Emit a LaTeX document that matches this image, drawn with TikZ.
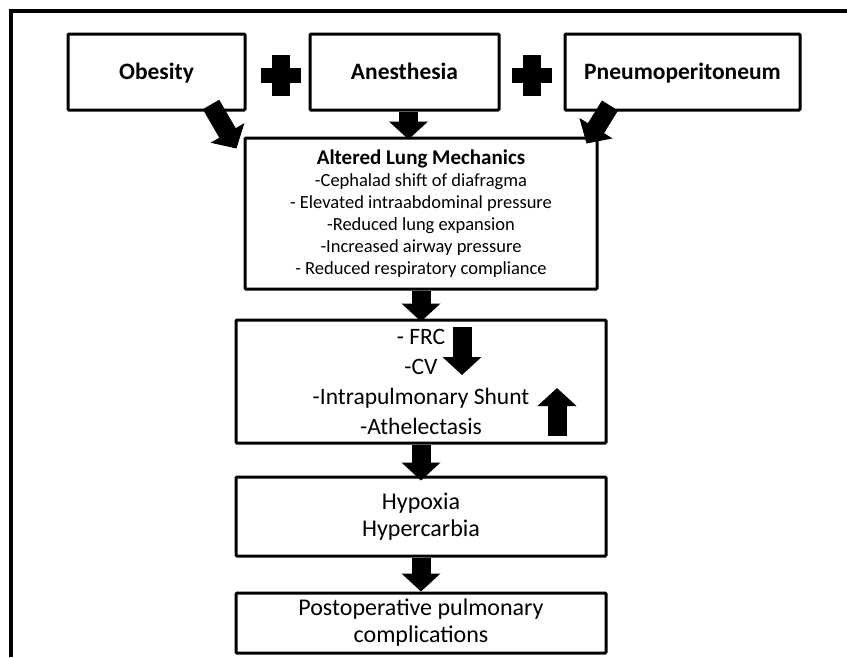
\documentclass[tikz,border=0pt]{standalone}
\usepackage{fontspec}
\setmainfont{Carlito}
\usetikzlibrary{arrows.meta,calc}
\tikzstyle{box} = [draw=black, line width=3pt, inner sep=0pt, align=center, rounded corners=1pt]
\tikzstyle{cause} = [box, minimum height=76pt, text height=15pt, text depth=0pt, font=\fontsize{23.5}{26}\selectfont\bfseries]
\tikzstyle{blk} = [line width=19pt, -{Triangle[width=38pt,length=18pt]}]

\begin{document}
\begin{tikzpicture}[x=1pt,y=-1pt]
	\useasboundingbox (0,0) rectangle (847,657);
	%frame
	\draw[line width=3.5pt] (11,657) -- (11,11) -- (847,11);
	%causes
	\node[cause, minimum width=177pt] (obes) at (156.5,72) {Obesity};
	\node[cause, minimum width=189pt] (anes) at (404.5,72) {Anesthesia};
	\node[cause, minimum width=235pt] (pneu) at (682.5,72) {Pneumoperitoneum};
	\foreach \px in {281,532} {
		\fill (\px-9,55) rectangle (\px+9,96);
		\fill (\px-20,68) rectangle (\px+20,83);
	}
	%mechanics
	\node[box, minimum width=352pt, minimum height=151pt, font=\fontsize{18.5}{22}\selectfont] (alt) at (421,213.5) {{\fontsize{21}{22}\selectfont\bfseries Altered Lung Mechanics}\\-Cephalad shift of diafragma\\- Elevated intraabdominal pressure\\-Reduced lung expansion\\-Increased airway pressure\\- Reduced respiratory compliance};
	\draw[blk] ($(obes.south)+(54.5,-7)$) -- ($(alt.north west)+(-7,12)$);
	\draw[blk] ($(anes.south)+(4,0)$) -- ($(anes.south)+(4,28)$);
	\draw[blk] ($(pneu.south)+(-72.5,-6)$) -- ($(alt.north east)+(-12,7)$);
	%volumes
	\node[box, minimum width=370pt, minimum height=123pt, font=\fontsize{23.5}{30}\selectfont] (vol) at (421,381.5) {- FRC\\-CV\\-Intrapulmonary Shunt\\-Athelectasis};
	\draw[blk, shorten >=-3pt] (alt.south) -- (vol.north);
	\coordinate (dnA) at (462,327);
	\coordinate (dnB) at (462,375);
	\draw[blk] (dnA) -- (dnB);
	\coordinate (upA) at (557,436);
	\coordinate (upB) at (557,388);
	\draw[blk] (upA) -- (upB);
	%gas exchange
	\node[box, minimum width=370pt, minimum height=79pt, font=\fontsize{24}{27}\selectfont] (hyp) at (421,516.5) {Hypoxia\\Hypercarbia};
	\draw[blk, shorten >=-5pt] (vol.south) -- (hyp.north);
	%outcome
	\node[box, minimum width=370pt, minimum height=60pt, font=\fontsize{24}{27}\selectfont] (post) at (421,623) {Postoperative pulmonary\\complications};
	\draw[blk] (hyp.south) -- (post.north);
\end{tikzpicture}
\end{document}
